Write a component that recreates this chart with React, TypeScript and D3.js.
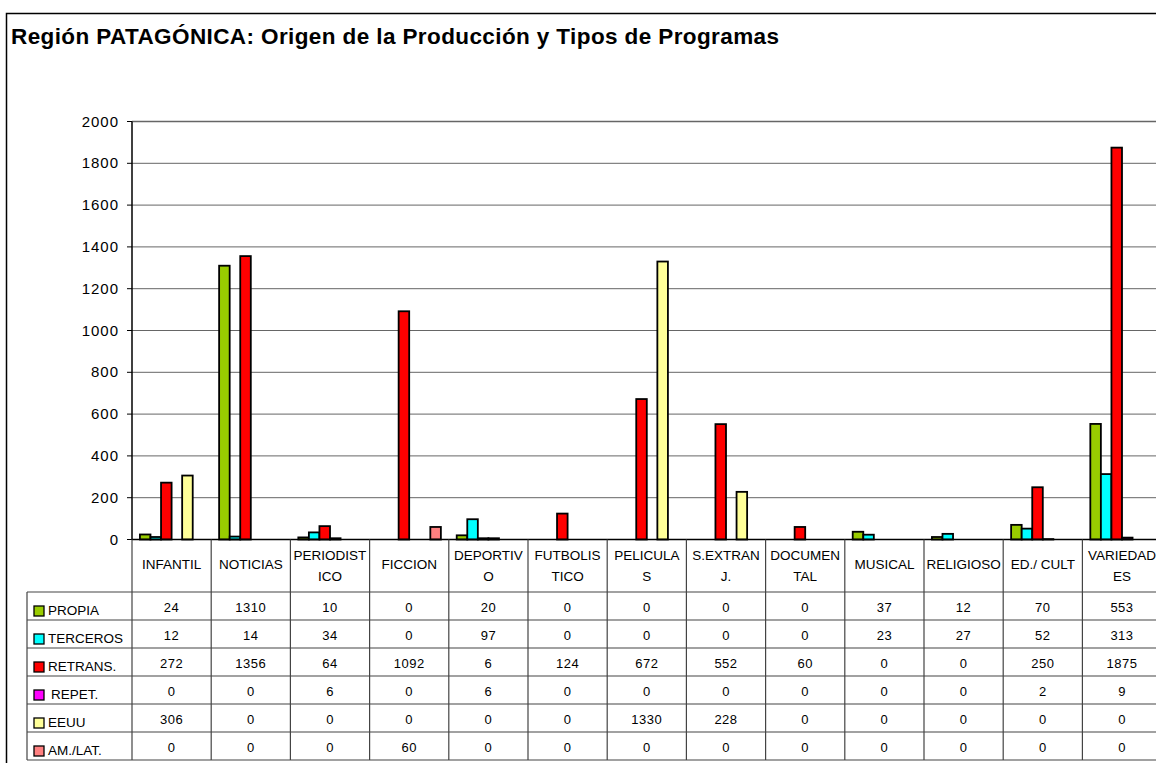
import React from "react";
import * as d3 from "d3";

const categories = [
  ["INFANTIL"], ["NOTICIAS"], ["PERIODIST", "ICO"], ["FICCION"], ["DEPORTIV", "O"],
  ["FUTBOLIS", "TICO"], ["PELICULA", "S"], ["S.EXTRAN", "J."], ["DOCUMEN", "TAL"],
  ["MUSICAL"], ["RELIGIOSO"], ["ED./ CULT"], ["VARIEDAD", "ES"],
];
const seriesNames = ["PROPIA", "TERCEROS", "RETRANS.", "REPET.", "EEUU", "AM./LAT."];
const seriesColors = ["#99CC00", "#00FFFF", "#FF0000", "#FF00FF", "#FFFF99", "#FF8080"];
const propia = [24, 1310, 10, 0, 20, 0, 0, 0, 0, 37, 12, 70, 553];
const terceros = [12, 14, 34, 0, 97, 0, 0, 0, 0, 23, 27, 52, 313];
const retrans = [272, 1356, 64, 1092, 6, 124, 672, 552, 60, 0, 0, 250, 1875];
const repet = [0, 0, 6, 0, 6, 0, 0, 0, 0, 0, 0, 2, 9];
const eeuu = [306, 0, 0, 0, 0, 0, 1330, 228, 0, 0, 0, 0, 0];
const amlat = [0, 0, 0, 60, 0, 0, 0, 0, 0, 0, 0, 0, 0];
const yTicks = [0, 200, 400, 600, 800, 1000, 1200, 1400, 1600, 1800, 2000];
const title = "Región PATAGÓNICA: Origen de la Producción y Tipos de Programas";

const series = [propia, terceros, retrans, repet, eeuu, amlat];

export default function App() {
  const W = 1156, H = 763;
  const left = 132, colW = 79.2;
  const right = left + colW * categories.length;
  const top = 121.5, base = 539.5;
  const x = d3.scaleBand<number>().domain(d3.range(categories.length)).range([left, right]).padding(0);
  const y = d3.scaleLinear().domain([0, 2000]).range([base, top]);
  const barW = x.bandwidth() / 7.5;
  const headerBottom = 592;
  const rowH = 28;
  const tableLeft = 27;
  const font = "Arial, 'Liberation Sans', sans-serif";

  return (
    <svg width={W} height={H} style={{ position: "absolute", left: 0, top: 0, background: "#fff" }} fontFamily={font}>
      <rect x={6.5} y={13.5} width={W + 10} height={H + 10} fill="#fff" stroke="#000" strokeWidth={1.5} />
      <text x={11} y={44} fontSize={22.5} fontWeight="bold" textLength={768} lengthAdjust="spacing">{title}</text>
      {yTicks.map((t) => (
        <g key={t}>
          {t > 0 && <line x1={left} x2={W} y1={y(t)} y2={y(t)} stroke="#666" strokeWidth={t === 2000 ? 1.5 : 1} />}
          <line x1={left - 5} x2={left} y1={y(t)} y2={y(t)} stroke="#000" />
          <text x={119} y={y(t) + 5} fontSize={15} letterSpacing={1} textAnchor="end">{t}</text>
        </g>
      ))}
      {categories.map((_, ci) =>
        series.map((s, si) => {
          const v = s[ci];
          const bx = (x(ci) as number) + 0.75 * barW + si * barW;
          return (
            <rect key={ci + "-" + si} x={bx} y={y(v)} width={barW} height={base - y(v)}
              fill={seriesColors[si]} stroke="#000" strokeWidth={1.8} />
          );
        })
      )}
      <line x1={left} x2={left} y1={top} y2={base} stroke="#000" strokeWidth={1.5} />
      <line x1={left} x2={W} y1={base} y2={base} stroke="#000" strokeWidth={1.5} />
      {d3.range(categories.length + 1).map((i) => (
        <line key={"v" + i} x1={left + i * colW} x2={left + i * colW} y1={base} y2={headerBottom + rowH * 6} stroke="#444" strokeWidth={1.2} />
      ))}
      <line x1={tableLeft} x2={tableLeft} y1={headerBottom} y2={headerBottom + rowH * 6} stroke="#444" strokeWidth={1.2} />
      {d3.range(7).map((r) => (
        <line key={"h" + r} x1={tableLeft} x2={W} y1={headerBottom + r * rowH} y2={headerBottom + r * rowH} stroke="#444" strokeWidth={1.2} />
      ))}
      {categories.map((lines, ci) => {
        const cx = (x(ci) as number) + colW / 2;
        return (
          <text key={"c" + ci} fontSize={13.5} textAnchor="middle">
            {lines.map((l, li) => (
              <tspan key={li} x={cx} y={lines.length === 1 ? 569 : 560 + li * 20.5}>{l}</tspan>
            ))}
          </text>
        );
      })}
      {seriesNames.map((n, si) => {
        const ry = headerBottom + si * rowH;
        return (
          <g key={n}>
            <rect x={34} y={ry + 14} width={10} height={10} fill={seriesColors[si]} stroke="#000" strokeWidth={1.3} />
            <text x={si === 3 ? 51 : 48} y={ry + 23} fontSize={13.5}>{n}</text>
            {series[si].map((v, ci) => (
              <text key={ci} x={(x(ci) as number) + colW / 2} y={ry + 20} fontSize={13} letterSpacing={0.5} textAnchor="middle">{v}</text>
            ))}
          </g>
        );
      })}
    </svg>
  );
}
